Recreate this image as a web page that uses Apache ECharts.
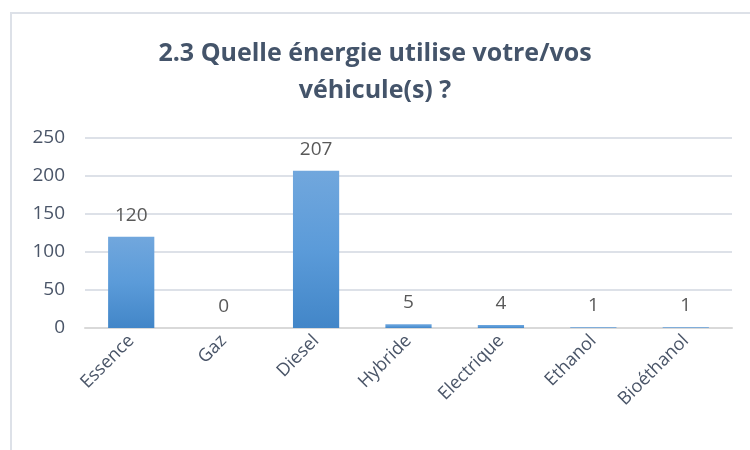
<!DOCTYPE html>
<html>
<head>
<meta charset="utf-8">
<script src="https://cdn.jsdelivr.net/npm/echarts@6/dist/echarts.min.js"></script>
<style>
  body { margin: 0; background: #fff; }
  #frame { position: absolute; left: 10px; top: 12px; width: 760px; height: 460px; border: 2px solid #dde1e8; box-sizing: border-box; }
  #main { position: absolute; left: 0; top: 0; width: 750px; height: 450px; }
</style>
</head>
<body>
<div id="frame"></div>
<div id="main"></div>
<script>
// donnees du graphique
const categories = ['Essence', 'Gaz', 'Diesel', 'Hybride', 'Electrique', 'Ethanol', 'Bioéthanol'];
const counts = [120, 0, 207, 5, 4, 1, 1];
const yTicks = [0, 50, 100, 150, 200, 250];

let myChart = echarts.init(document.getElementById('main'), null, { renderer: 'canvas' });

const font = '"Open Sans", sans-serif';

var option = {
  animation: false,
  title: {
    text: '2.3 Quelle énergie utilise votre/vos\nvéhicule(s) ?',
    left: 'center',
    top: 30,
    textStyle: {
      color: '#44546a',
      fontFamily: font,
      fontWeight: 'bold',
      fontSize: 25,
      lineHeight: 37
    }
  },
  grid: {
    left: 85,
    right: 18,
    top: 138,
    bottom: 122
  },
  xAxis: {
    type: 'category',
    data: categories,
    axisLine: { lineStyle: { color: '#d9d9d9', width: 2 } },
    axisTick: { show: false },
    axisLabel: {
      rotate: 45,
      margin: 10,
      color: '#4a5568',
      fontFamily: font,
      fontSize: 18
    }
  },
  yAxis: {
    type: 'value',
    min: yTicks[0],
    max: yTicks[yTicks.length - 1],
    interval: 50,
    axisLine: { show: false },
    axisTick: { show: false },
    splitLine: { lineStyle: { color: '#dde1e8', width: 2 } },
    axisLabel: {
      margin: 20,
      color: '#4a5568',
      fontFamily: font,
      fontSize: 19
    }
  },
  series: [
    {
      type: 'bar',
      data: counts,
      barWidth: '50%',
      itemStyle: {
        color: new echarts.graphic.LinearGradient(0, 0, 0, 1, [
          { offset: 0, color: '#71a7dd' },
          { offset: 0.5, color: '#5b9bd9' },
          { offset: 1, color: '#4286c8' }
        ])
      },
      label: {
        show: true,
        position: 'top',
        distance: 12,
        color: '#595959',
        fontFamily: font,
        fontSize: 19
      }
    }
  ]
};

myChart.setOption(option);
window.addEventListener('resize', myChart.resize);
</script>
</body>
</html>
